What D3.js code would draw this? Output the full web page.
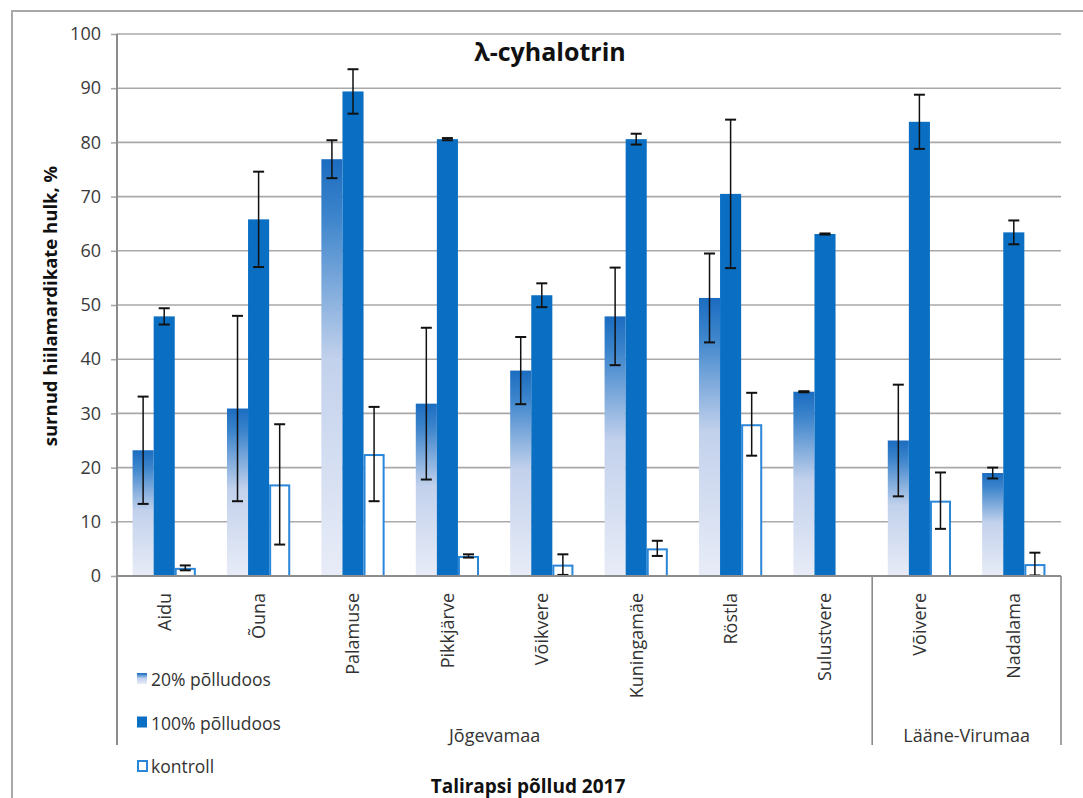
<!DOCTYPE html>
<html>
<head>
<meta charset="utf-8">
<script src="https://cdn.jsdelivr.net/npm/d3@7"></script>
<style>
  html, body { margin: 0; padding: 0; background: #fff; }
  svg { display: block; font-family: "Open Sans", "DejaVu Sans", sans-serif; }
</style>
</head>
<body>
<svg id="chart" width="1083" height="798"></svg>
<script>
// Fields (winter oilseed rape, 2017) and their counties
const categories = ["Aidu", "Õuna", "Palamuse", "Pikkjärve", "Võikvere",
                    "Kuningamäe", "Röstla", "Sulustvere", "Võivere", "Nadalama"];
const regionNames = ["Jõgevamaa", "Lääne-Virumaa"];
const regionSizes = [8, 2];

// Series names (legend)
const seriesNames = ["20% põlludoos", "100% põlludoos", "kontroll"];

// Dead ground beetles, % — means and error half-widths
const dose20  = [23.2, 30.9, 76.9, 31.8, 37.9, 47.9, 51.3, 34.0, 25.0, 19.0];
const err20   = [9.9, 17.1, 3.5, 14.0, 6.2, 9.0, 8.2, 0.1, 10.3, 1.0];
const dose100 = [47.9, 65.8, 89.4, 80.6, 51.8, 80.6, 70.5, 63.1, 83.8, 63.4];
const err100  = [1.5, 8.8, 4.1, 0.2, 2.2, 1.0, 13.7, 0.1, 5.0, 2.2];
const control = [1.5, 16.9, 22.5, 3.7, 2.1, 5.1, 28.0, null, 13.9, 2.2];
const errCtrl = [0.45, 11.1, 8.7, 0.3, 1.9, 1.4, 5.8, null, 5.2, 2.1];

const yTicks = [0, 10, 20, 30, 40, 50, 60, 70, 80, 90, 100];

const title = "λ-cyhalotrin";
const yTitle = "surnud hiilamardikate hulk, %";
const xTitle = "Talirapsi põllud 2017";

// ---- layout ----
const svg = d3.select("#chart");
const plot = { left: 117, right: 1061, top: 34, bottom: 576 };
const labelFloor = 745;

const BLUE = "#0a6fc2";
const CTRL = "#2a86d8";
const GRID = "#a9a9a9";

const defs = svg.append("defs");
const grad = defs.append("linearGradient")
  .attr("id", "fade20").attr("x1", 0).attr("y1", 0).attr("x2", 0).attr("y2", 1);
[[0, "#1b6cc0"], [0.14, "#3d85cc"], [0.48, "#c2d1ec"], [1, "#e8ecf7"]]
  .forEach(([o, c]) => grad.append("stop").attr("offset", o).attr("stop-color", c));

// outer chart frame
svg.append("rect")
  .attr("x", 12).attr("y", 11).attr("width", 1200).attr("height", 900)
  .attr("fill", "none").attr("stroke", "#a8a8a8").attr("stroke-width", 2);

const y = d3.scaleLinear().domain([0, 100]).range([plot.bottom, plot.top]);
const x0 = d3.scaleBand().domain(categories).range([plot.left, plot.right]).padding(0);
const pad = x0.bandwidth() * 0.165;
const x1 = d3.scaleBand().domain(seriesNames).range([pad, x0.bandwidth() - pad]);

// gridlines + y ticks
const yAxis = svg.append("g")
  .attr("transform", `translate(${plot.left},0)`)
  .call(d3.axisLeft(y).tickValues(yTicks).tickSize(6).tickPadding(10));
yAxis.select(".domain").remove();
yAxis.selectAll(".tick line").attr("stroke", GRID).attr("stroke-width", 1.6);
yAxis.selectAll(".tick text")
  .attr("fill", "#3a3a3a").style("font-size", "18px")
  .style("font-family", "'Open Sans', sans-serif");

svg.append("g").selectAll("line").data(yTicks.filter(d => d > 0)).join("line")
  .attr("x1", plot.left).attr("x2", plot.right)
  .attr("y1", d => y(d)).attr("y2", d => y(d))
  .attr("stroke", GRID).attr("stroke-width", 1.6);

// bars
const rows = categories.map((c, i) => ({
  cat: c,
  vals: [
    { s: seriesNames[0], v: dose20[i], e: err20[i] },
    { s: seriesNames[1], v: dose100[i], e: err100[i] },
    { s: seriesNames[2], v: control[i], e: errCtrl[i] }
  ]
}));

const groups = svg.append("g").selectAll("g").data(rows).join("g")
  .attr("transform", d => `translate(${x0(d.cat)},0)`);

groups.selectAll("rect").data(d => d.vals.filter(v => v.v != null)).join("rect")
  .attr("x", d => x1(d.s) + (d.s === seriesNames[2] ? 1 : 0))
  .attr("y", d => y(d.v) + (d.s === seriesNames[2] ? 1 : 0))
  .attr("width", d => x1.bandwidth() - (d.s === seriesNames[2] ? 2 : 0))
  .attr("height", d => y(0) - y(d.v) - (d.s === seriesNames[2] ? 1 : 0))
  .attr("fill", d => d.s === seriesNames[0] ? "url(#fade20)" : d.s === seriesNames[1] ? BLUE : "#fff")
  .attr("stroke", d => d.s === seriesNames[2] ? CTRL : "none")
  .attr("stroke-width", 2);

// error bars
const cap = 5.5;
const eb = groups.selectAll("g.err").data(d => d.vals.filter(v => v.v != null && v.e != null))
  .join("g").attr("class", "err")
  .attr("transform", d => `translate(${x1(d.s) + x1.bandwidth() / 2},0)`)
  .attr("stroke", "#111").attr("stroke-width", 1.5);
eb.append("line").attr("x1", 0).attr("x2", 0)
  .attr("y1", d => y(d.v - d.e)).attr("y2", d => y(d.v + d.e));
eb.append("line").attr("x1", -cap).attr("x2", cap)
  .attr("y1", d => y(d.v + d.e)).attr("y2", d => y(d.v + d.e)).attr("stroke-width", 2);
eb.append("line").attr("x1", -cap).attr("x2", cap)
  .attr("y1", d => y(d.v - d.e)).attr("y2", d => y(d.v - d.e)).attr("stroke-width", 2);

// category axis
const xAxis = svg.append("g")
  .attr("transform", `translate(0,${plot.bottom})`)
  .call(d3.axisBottom(x0).tickSize(0).tickPadding(0));
xAxis.select(".domain").attr("stroke", "#8c8c8c").attr("stroke-width", 2)
  .attr("d", `M${plot.left},0H${plot.right}`);
xAxis.selectAll(".tick text")
  .attr("transform", "translate(0,17) rotate(-90)")
  .attr("text-anchor", "end").attr("x", 0).attr("y", 0).attr("dy", "0.36em")
  .attr("fill", "#333").style("font-size", "18px")
  .style("font-family", "'Open Sans', sans-serif");

// left axis line, extended through the category label area
svg.append("line")
  .attr("x1", plot.left).attr("x2", plot.left)
  .attr("y1", plot.top).attr("y2", labelFloor)
  .attr("stroke", "#8c8c8c").attr("stroke-width", 2);

// region brackets and names
let start = 0;
const regions = regionNames.map((n, i) => {
  const r = { name: n, from: start, to: start + regionSizes[i] };
  start += regionSizes[i];
  return r;
});
const edge = i => i >= categories.length ? plot.right : x0(categories[i]);
svg.append("g").selectAll("line").data(regions.slice(1).map(r => r.from).concat([categories.length]))
  .join("line")
  .attr("x1", d => edge(d)).attr("x2", d => edge(d))
  .attr("y1", plot.bottom).attr("y2", labelFloor)
  .attr("stroke", "#8c8c8c").attr("stroke-width", 1.6);
svg.append("g").selectAll("text").data(regions).join("text")
  .attr("x", d => (edge(d.from) + edge(d.to)) / 2)
  .attr("y", 742)
  .attr("text-anchor", "middle")
  .attr("fill", "#333").style("font-size", "18px")
  .text(d => d.name);

// titles
svg.append("text").attr("x", 550).attr("y", 61).attr("text-anchor", "middle")
  .style("font-size", "25px").style("font-weight", "bold").attr("fill", "#111")
  .text(title);
svg.append("text").attr("x", 528).attr("y", 793).attr("text-anchor", "middle")
  .style("font-size", "19px").style("font-weight", "bold").attr("fill", "#111")
  .text(xTitle);
svg.append("text")
  .attr("transform", "translate(57,306) rotate(-90)")
  .attr("text-anchor", "middle")
  .style("font-size", "18.5px").style("font-weight", "bold").attr("fill", "#111")
  .text(yTitle);

// legend
const legend = svg.append("g").selectAll("g").data(seriesNames).join("g")
  .attr("transform", (d, i) => `translate(137,${686 + i * 43.5})`);
legend.append("rect")
  .attr("x", d => d === seriesNames[2] ? 1 : 0)
  .attr("y", d => d === seriesNames[2] ? -12 : -13)
  .attr("width", d => d === seriesNames[2] ? 9 : 10)
  .attr("height", d => d === seriesNames[2] ? 10 : 11)
  .attr("fill", (d, i) => i === 0 ? "url(#fade20)" : i === 1 ? BLUE : "#fff")
  .attr("stroke", (d, i) => i === 2 ? CTRL : "none")
  .attr("stroke-width", 2);
legend.append("text").attr("x", 14).attr("y", 0)
  .attr("fill", "#333").style("font-size", "17.5px")
  .text(d => d);
</script>
</body>
</html>
